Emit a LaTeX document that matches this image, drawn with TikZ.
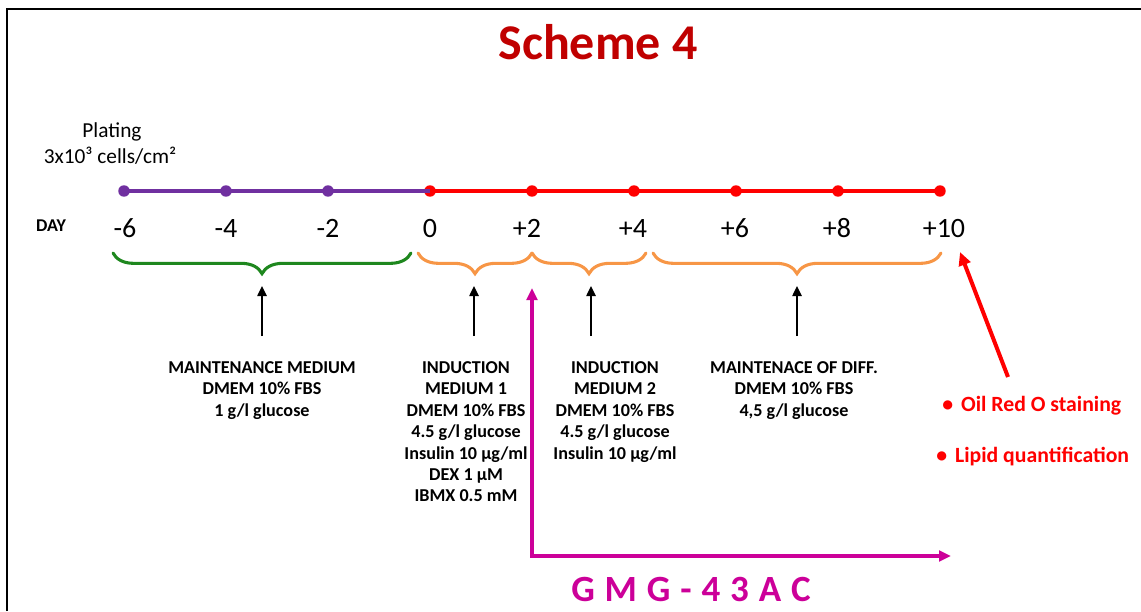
\documentclass[tikz,border=0pt]{standalone}
\usepackage{fontspec}
\setmainfont{Carlito}
\usetikzlibrary{arrows.meta,decorations.pathreplacing}

\definecolor{titlered}{RGB}{192,0,0}
\definecolor{tlpurple}{RGB}{112,48,160}
\definecolor{tlred}{RGB}{255,0,0}
\definecolor{brgreen}{RGB}{30,135,30}
\definecolor{brorange}{RGB}{247,150,70}
\definecolor{gmgmag}{RGB}{204,0,153}

\begin{document}
\begin{tikzpicture}[x=0.75pt,y=-0.75pt,
  tick/.style={circle,inner sep=0pt,minimum size=8.6pt},
  daynum/.style={anchor=base,inner sep=0pt,font=\fontsize{21}{25}\selectfont},
  medium/.style={anchor=north,inner sep=0pt,align=center,
                 font=\bfseries\fontsize{13.6}{16.1}\selectfont},
  stage/.style={decorate,decoration={brace,mirror,amplitude=15.5pt},
                line width=2.3pt,line cap=round},
  pointer/.style={-{Triangle[length=7.5pt,width=7pt]},line width=1.1pt},
  readout/.style={anchor=base west,inner sep=0pt,text=tlred,
                  font=\bfseries\fontsize{16.3}{19}\selectfont},
]
\useasboundingbox (0,0) rectangle (1141,611);

% frame
\draw[line width=1.6pt] (7,611) -- (7,9) -- (1141,9);

% title
\node[anchor=base,inner sep=0pt,text=titlered,
      font=\bfseries\fontsize{37.5}{44}\selectfont] (title) at (598,59) {Scheme 4};

% plating note
\node[anchor=base,inner sep=0pt,font=\fontsize{16}{19}\selectfont] (plat1) at (112,137) {Plating};
\node[anchor=base,inner sep=0pt,font=\fontsize{16}{19}\selectfont] (plat2) at (110,163) {3x10³ cells/cm²};

% timeline dots
\node[tick,fill=tlpurple] (dm6) at (124,191) {};
\node[tick,fill=tlpurple] (dm4) at (226,191) {};
\node[tick,fill=tlpurple] (dm2) at (328,191) {};
\node[tick,fill=tlred] (d0)  at (430,191) {};
\node[tick,fill=tlred] (dp2) at (532,191) {};
\node[tick,fill=tlred] (dp4) at (634,191) {};
\node[tick,fill=tlred] (dp6) at (736,191) {};
\node[tick,fill=tlred] (dp8) at (838,191) {};
\node[tick,fill=tlred] (dp10) at (940,191) {};
\draw[tlpurple,line width=2.6pt] (dm6.center) -- (dm4.center) -- (dm2.center) -- (d0.center);
\draw[tlred,line width=2.6pt] (d0.center) -- (dp2.center) -- (dp4.center) -- (dp6.center)
      -- (dp8.center) -- (dp10.center);

% day labels
\node[anchor=base,inner sep=0pt,font=\bfseries\fontsize{13.5}{16}\selectfont] (day) at (51,231) {DAY};
\node[daynum] (lm6) at (125,237) {-6};
\node[daynum] (lm4) at (226,237) {-4};
\node[daynum] (lm2) at (328,237) {-2};
\node[daynum] (l0)  at (430,237) {0};
\node[daynum] (lp2) at (527,237) {+2};
\node[daynum] (lp4) at (633,237) {+4};
\node[daynum] (lp6) at (735,237) {+6};
\node[daynum] (lp8) at (837,237) {+8};
\node[daynum] (lp10) at (944,237) {+10};

% stage braces
\coordinate (gA) at (113,253);  \coordinate (gB) at (411,253);
\coordinate (oA) at (418,253);  \coordinate (oB) at (532,253);
\coordinate (pA) at (532,253);  \coordinate (pB) at (646,253);
\coordinate (qA) at (653,253);  \coordinate (qB) at (941,253);
\draw[stage,brgreen] (gA) -- (gB);
\draw[stage,brorange] (oA) -- (oB);
\draw[stage,brorange] (pA) -- (pB);
\draw[stage,brorange] (qA) -- (qB);

% media descriptions
\node[medium] (maint) at (262,361) {MAINTENANCE MEDIUM\\DMEM 10\% FBS\\1 g/l glucose};
\node[medium] (ind1) at (466,361) {INDUCTION\\MEDIUM 1\\DMEM 10\% FBS\\4.5 g/l glucose\\Insulin 10 µg/ml\\DEX 1 µM\\IBMX 0.5 mM};
\node[medium] (ind2) at (615,361) {INDUCTION\\MEDIUM 2\\DMEM 10\% FBS\\4.5 g/l glucose\\Insulin 10 µg/ml};
\node[medium] (diff) at (794,361) {MAINTENACE OF DIFF.\\DMEM 10\% FBS\\4,5 g/l glucose};

% pointers from descriptions to braces
\coordinate (maintT) at (262,336); \coordinate (maintH) at (262,286);
\coordinate (ind1T) at (474,336);  \coordinate (ind1H) at (474,286);
\coordinate (ind2T) at (591,336);  \coordinate (ind2H) at (591,286);
\coordinate (diffT) at (797,336);  \coordinate (diffH) at (797,286);
\draw[pointer] (maintT) -- (maintH);
\draw[pointer] (ind1T) -- (ind1H);
\draw[pointer] (ind2T) -- (ind2H);
\draw[pointer] (diffT) -- (diffH);

% treatment window
\coordinate (gmgTop) at (532,288);
\coordinate (gmgCorner) at (532,556);
\coordinate (gmgEnd) at (951,556);
\draw[gmgmag,line width=2.3pt,{Triangle[length=9pt,width=8pt]}-{Triangle[length=9pt,width=8pt]}]
  (gmgTop) -- (gmgCorner) -- (gmgEnd);
\node[anchor=base,inner sep=0pt,text=gmgmag,font=\bfseries\fontsize{27.75}{32}\selectfont]
  (gmg) at (691,601) {G\kern7.4pt M\kern7.4pt G\kern7.4pt -\kern7.4pt 4\kern7.4pt 3\kern7.4pt A\kern7.4pt C};

% readouts
\node[readout] (oil) at (942,411) {•\hspace{6pt}Oil Red O staining};
\node[readout] (lipid) at (936,462) {•\hspace{6pt}Lipid quantification};
\coordinate (redT) at (1008,377);
\coordinate (redH) at (960,252);
\draw[tlred,line width=3pt,-{Triangle[length=10pt,width=9pt]}] (redT) -- (redH);
\end{tikzpicture}
\end{document}
